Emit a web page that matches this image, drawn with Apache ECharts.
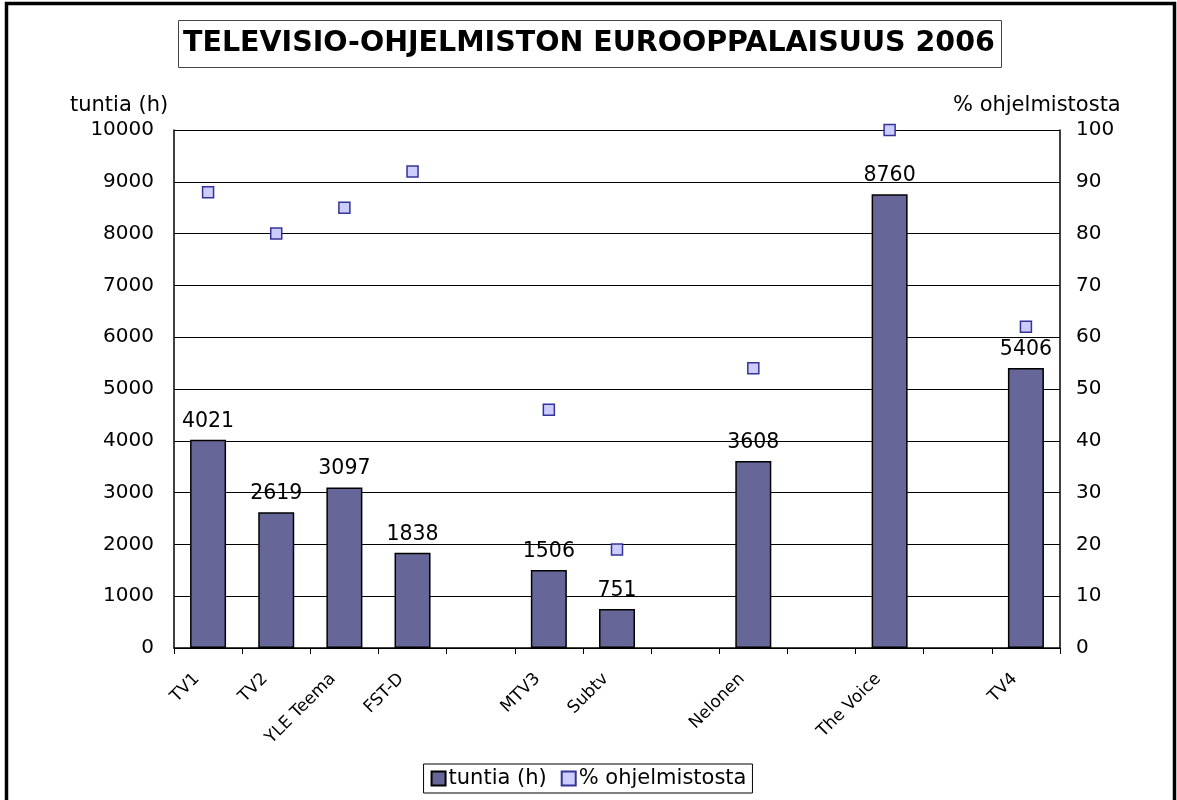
<!DOCTYPE html>
<html>
<head>
<meta charset="utf-8">
<script src="https://cdn.jsdelivr.net/npm/echarts@6/dist/echarts.min.js"></script>
<style>
html,body{margin:0;padding:0;background:#fff;}
#chart{width:1177px;height:800px;}
</style>
</head>
<body>
<div id="chart"></div>
<script>
const categories = ["TV1", "TV2", "YLE Teema", "FST-D", "", "MTV3", "Subtv", "", "Nelonen", "", "The Voice", "", "TV4"];
const hoursValues = [4021, 2619, 3097, 1838, null, 1506, 751, null, 3608, null, 8760, null, 5406];
const percentValues = [88, 80, 85, 92, null, 46, 19, null, 54, null, 100, null, 62];
const titleText = "TELEVISIO-OHJELMISTON EUROOPPALAISUUS 2006";
const leftAxisName = "tuntia (h)";
const rightAxisName = "% ohjelmistosta";

const FONT = "DejaVu Sans, Verdana, sans-serif";
const chart = echarts.init(document.getElementById('chart'));
chart.setOption({
  backgroundColor: '#fff',
  animation: false,
  textStyle: { fontFamily: FONT, color: '#000' },
  title: {
    text: titleText,
    left: 178, top: 20,
    padding: [9, 7, 10, 5],
    borderColor: '#444', borderWidth: 1,
    textStyle: { fontFamily: FONT, fontWeight: 'bold', fontSize: 28.5, color: '#000' }
  },
  legend: {
    bottom: 7, left: 'center',
    orient: 'horizontal',
    borderColor: '#000', borderWidth: 1,
    padding: [4, 6, 4, 7],
    itemGap: 14, itemWidth: 14, itemHeight: 14,
    textStyle: { fontFamily: FONT, fontSize: 21, color: '#000', padding: [0, 0, 0, -2] },
    data: [
      { name: leftAxisName, icon: 'rect' },
      { name: rightAxisName, icon: 'rect' }
    ]
  },
  grid: { left: 174, right: 117, top: 130, bottom: 152, containLabel: false },
  xAxis: {
    type: 'category',
    data: categories,
    boundaryGap: true,
    axisLine: { show: true, lineStyle: { color: '#000', width: 1.5 } },
    axisTick: { show: true, interval: 0, length: 6, lineStyle: { color: '#000' } },
    axisLabel: { interval: 0, rotate: 45, fontFamily: FONT, fontSize: 17, color: '#000', margin: 17, padding: [0, 16, 0, 0] }
  },
  yAxis: [
    {
      type: 'value', min: 0, max: 10000, interval: 1000,
      axisLine: { show: true, lineStyle: { color: '#000', width: 1.5 } },
      axisTick: { show: false },
      axisLabel: { fontFamily: FONT, fontSize: 20, color: '#000', margin: 20, formatter: function (v) { return String(v); } },
      splitLine: { show: true, lineStyle: { color: '#000', width: 1 } }
    },
    {
      type: 'value', min: 0, max: 100, interval: 10,
      axisLine: { show: true, lineStyle: { color: '#000', width: 1.5 } },
      axisTick: { show: false },
      axisLabel: { fontFamily: FONT, fontSize: 20, color: '#000', margin: 16, formatter: function (v) { return String(v); } },
      splitLine: { show: false }
    }
  ],
  series: [
    {
      name: leftAxisName,
      type: 'bar',
      data: hoursValues,
      barWidth: 36,
      itemStyle: { color: '#666699', borderColor: '#000', borderWidth: 1.5 },
      label: { show: true, position: 'top', distance: 8, fontFamily: FONT, fontSize: 20.5, color: '#000' }
    },
    {
      name: rightAxisName,
      type: 'scatter',
      yAxisIndex: 1,
      data: percentValues,
      symbol: 'rect',
      symbolSize: 11,
      itemStyle: { color: '#ccccff', borderColor: '#333399', borderWidth: 1.5, opacity: 1 }
    }
  ],
  graphic: [
    {
      type: 'rect', silent: true,
      shape: { x: 6.5, y: 3.5, width: 1168, height: 840 },
      style: { fill: 'none', stroke: '#000', lineWidth: 3.5 }
    },
    {
      type: 'text', left: 70, top: 95,
      style: { text: leftAxisName, font: '21px ' + FONT, fill: '#000' }
    },
    {
      type: 'text', left: 953, top: 95,
      style: { text: rightAxisName, font: '21px ' + FONT, fill: '#000' }
    }
  ]
});
</script>
</body>
</html>
